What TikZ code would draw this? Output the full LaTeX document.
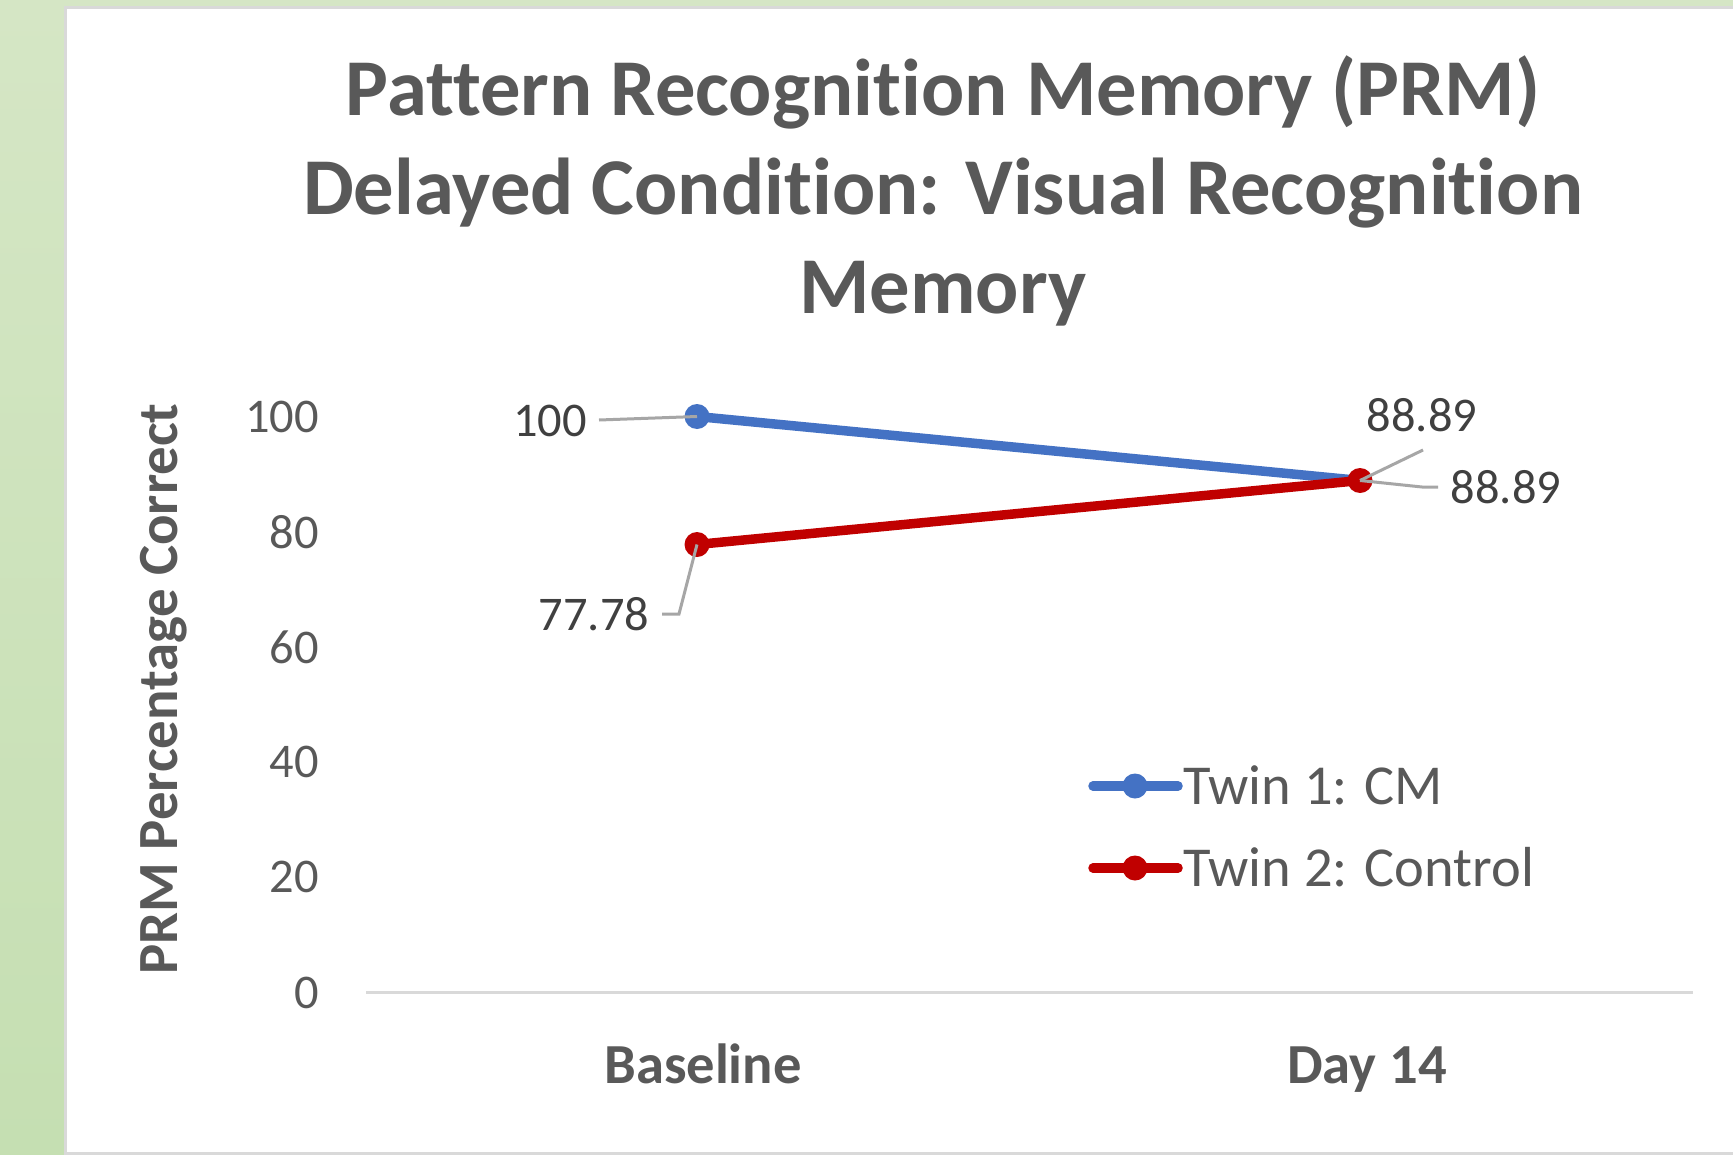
\documentclass[tikz,border=0pt]{standalone}
\usepackage{fontspec}
\setmainfont{Carlito}[RawFeature={-liga;-clig;-dlig}]
\definecolor{txtgray}{HTML}{595959}
\definecolor{lblgray}{HTML}{404040}
\definecolor{leadgray}{HTML}{A6A6A6}
\definecolor{axisgray}{HTML}{D9D9D9}
\definecolor{cmblue}{HTML}{4472C4}
\definecolor{ctrlred}{HTML}{C00000}
\definecolor{greentop}{HTML}{D5E6C5}
\definecolor{greenbot}{HTML}{C5DFB2}
\tikzset{
  ticklbl/.style={font=\fontsize{24.2}{29}\selectfont, text=txtgray, anchor=east, inner sep=0pt},
  datalbl/.style={font=\fontsize{24.2}{29}\selectfont, text=lblgray, inner sep=0pt},
  catlbl/.style={font=\bfseries\fontsize{28.3}{34}\selectfont, text=txtgray, inner sep=0pt, anchor=base},
  leglbl/.style={font=\fontsize{28.2}{34}\selectfont, text=txtgray, anchor=west, inner sep=0pt},
  leader/.style={draw=leadgray, line width=1.5pt},
  series/.style={line width=4.75pt, line cap=round},
  dot/.style={circle, inner sep=0pt, minimum size=12.5pt},
}
\begin{document}
\begin{tikzpicture}[x=0.5pt,y=-0.5pt]
\useasboundingbox (0,0) rectangle (1733,1155);
% green backdrop with white chart panel
\shade[top color=greentop, bottom color=greenbot] (0,0) rectangle (1733,1155);
\fill[white, draw=axisgray, line width=1.5pt] (65,8) rectangle (1760,1153);

% title
\node[font=\bfseries\fontsize{40.3}{49.5}\selectfont, text=txtgray, align=center] (title) at (943,191)
  {Pattern Recognition Memory (PRM)\\Delayed Condition: Visual Recognition\\Memory};

% value axis title
\node[font=\bfseries\fontsize{28.4}{34}\selectfont, text=txtgray, rotate=90] (ytitle) at (164,689) {PRM Percentage Correct};

% category axis
\coordinate (axL) at (366,992.5);
\coordinate (axR) at (1693,992.5);
\draw[axisgray, line width=1.5pt] (axL) -- (axR);

% tick labels
\foreach \v in {0,20,40,60,80,100}
  \node[ticklbl] (tick\v) at (319,{992.5-5.76*\v}) {\v};

% category labels
\node[catlbl] (catA) at (703,1083) {Baseline};
\node[catlbl] (catB) at (1367,1083) {Day 14};

% data points
\coordinate (cmA) at (697,416.5);
\coordinate (cmB) at (1360,480.5);
\coordinate (ctA) at (697,544.5);
\coordinate (ctB) at (1360,480.5);

% data labels
\node[datalbl] (lcmA) at (550,421) {100};
\node[datalbl] (lctA) at (594,614) {77.78};
\node[datalbl] (lcmB) at (1422,415) {88.89};
\node[datalbl] (lctB) at (1506,487) {88.89};
\coordinate (kA) at (679,614);
\coordinate (kB) at (1422,487);

% series
\draw[series, cmblue] (cmA) -- (cmB);
\draw[series, ctrlred] (ctA) -- (ctB);
\node[dot, fill=cmblue] (mcmA) at (cmA) {};
\node[dot, fill=ctrlred] (mctA) at (ctA) {};
\node[dot, fill=ctrlred] (mctB) at (ctB) {};

% leader lines from labels to points
\draw[leader] (599,420) -- (cmA);
\draw[leader] (662,614) -- (kA) -- (ctA);
\draw[leader] (1423,450) -- (cmB);
\draw[leader] (1438,487) -- (kB) -- (ctB);

% legend
\coordinate (lg1a) at (1093,786);
\coordinate (lg1b) at (1178,786);
\coordinate (lg2a) at (1093,868);
\coordinate (lg2b) at (1178,868);
\draw[series, cmblue] (lg1a) -- (lg1b);
\draw[series, ctrlred] (lg2a) -- (lg2b);
\node[dot, fill=cmblue] (lgm1) at (1135,786) {};
\node[dot, fill=ctrlred] (lgm2) at (1135,868) {};
\node[leglbl] (leg1) at (1183,785) {Twin 1: CM};
\node[leglbl] (leg2) at (1183,867) {Twin 2: Control};
\end{tikzpicture}
\end{document}
